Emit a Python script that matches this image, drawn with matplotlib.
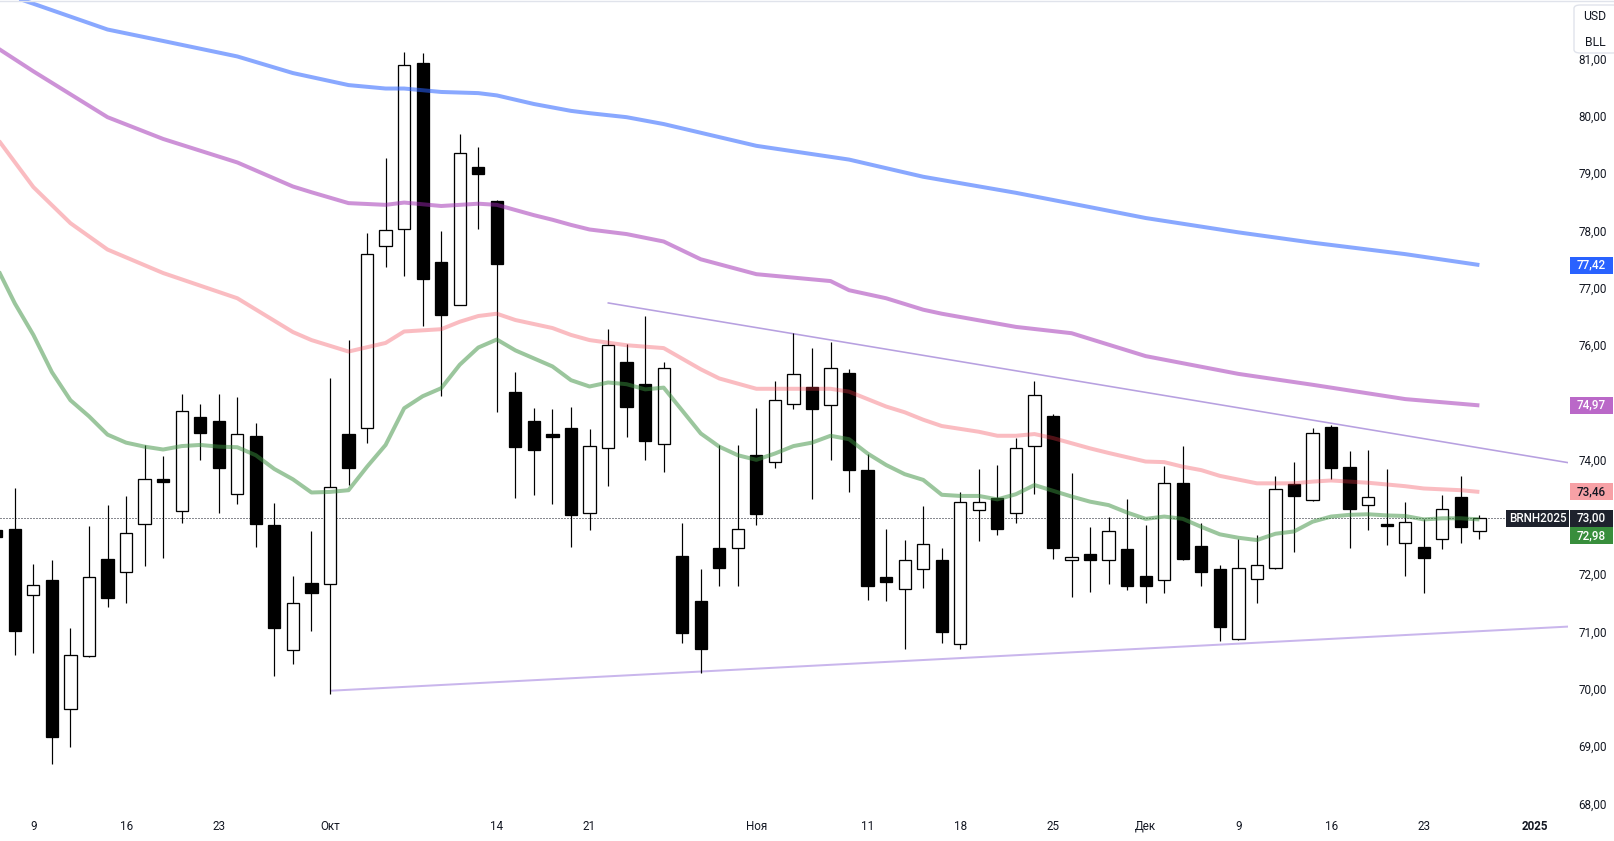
import matplotlib
matplotlib.use("Agg")
import matplotlib.pyplot as plt
import matplotlib.transforms as mtransforms
from matplotlib.patches import Rectangle, FancyBboxPatch
import numpy as np

plt.rcParams['font.family'] = ['Roboto', 'DejaVu Sans']

# ---------------- data ----------------
# trading-day index (0 = 9 Sep 2024)
candle_idx = list(range(-2, 79))
opens = [72.80, 72.81, 71.66, 71.92, 69.68, 70.60, 72.29, 72.07, 72.90, 73.69,
         73.12, 74.77, 74.70, 73.42, 74.44, 72.88, 70.70, 71.87, 71.85, 74.47,
         74.57, 77.76, 78.04, 80.95, 77.47, 76.73, 79.13, 78.54, 75.20, 74.70,
         74.47, 74.58, 73.10, 74.23, 75.72, 75.34, 74.29, 72.35, 71.55, 72.49,
         72.49, 74.10, 73.99, 74.99, 75.29, 74.97, 75.54, 73.84, 71.98, 71.77,
         72.11, 72.27, 70.80, 73.14, 73.36, 73.09, 74.27, 74.79, 72.27, 72.38,
         72.28, 72.46, 71.99, 71.92, 73.61, 72.52, 72.11, 70.90, 71.94, 72.14,
         73.59, 73.32, 74.60, 73.90, 73.24, 72.90, 72.56, 72.50, 72.63, 73.37,
         72.78]
highs = [72.95, 73.53, 72.20, 72.27, 71.09, 72.87, 73.23, 73.39, 74.28, 74.09,
         75.17, 74.99, 75.17, 75.11, 74.66, 73.26, 71.99, 72.78, 75.44, 76.12,
         77.97, 79.29, 81.14, 81.12, 78.01, 79.71, 79.48, 78.56, 75.55, 74.92,
         74.91, 74.94, 74.56, 76.30, 76.04, 76.53, 75.73, 72.91, 72.11, 74.28,
         74.28, 74.92, 75.40, 76.23, 75.97, 76.08, 75.61, 74.12, 72.81, 72.62,
         73.21, 72.48, 73.45, 73.86, 73.93, 74.40, 75.40, 74.82, 73.79, 72.85,
         73.03, 73.34, 72.88, 73.92, 74.27, 72.91, 72.19, 72.63, 72.71, 73.73,
         73.99, 74.57, 74.62, 74.17, 74.19, 73.86, 73.28, 72.99, 73.40, 73.73,
         73.05]
lows = [72.55, 70.62, 70.65, 68.71, 69.01, 70.58, 71.46, 71.53, 72.17, 72.31,
        72.91, 74.01, 73.10, 73.25, 72.50, 70.25, 70.45, 71.04, 69.93, 73.58,
        74.31, 77.39, 77.22, 76.36, 75.14, 76.72, 78.04, 74.86, 73.35, 73.41,
        73.25, 72.50, 72.80, 73.57, 74.42, 74.02, 73.81, 70.83, 70.30, 71.82,
        71.82, 72.89, 73.88, 74.90, 73.34, 74.02, 73.45, 71.57, 71.56, 70.72,
        71.79, 70.83, 70.71, 72.61, 72.70, 72.91, 73.43, 72.29, 71.63, 71.72,
        71.86, 71.75, 71.53, 71.69, 72.27, 71.81, 70.85, 70.88, 71.53, 72.12,
        72.42, 73.30, 73.69, 72.49, 72.80, 72.54, 72.00, 71.70, 72.47, 72.57,
        72.64]
closes = [72.68, 71.04, 71.83, 69.19, 70.61, 71.97, 71.60, 72.74, 73.69, 73.64,
          74.87, 74.48, 73.88, 74.47, 72.90, 71.08, 71.53, 71.69, 73.54, 73.88,
          77.61, 78.03, 80.91, 77.17, 76.55, 79.37, 79.01, 77.44, 74.24, 74.20,
          74.42, 73.05, 74.27, 76.02, 74.95, 74.35, 75.62, 70.99, 70.72, 72.14,
          72.81, 73.08, 75.06, 75.51, 74.90, 75.62, 73.85, 71.82, 71.88, 72.27,
          72.55, 71.02, 73.29, 73.29, 72.81, 74.22, 75.16, 72.48, 72.32, 72.28,
          72.77, 71.82, 71.82, 73.61, 72.29, 72.07, 71.11, 72.13, 72.18, 73.51,
          73.39, 74.48, 73.88, 73.17, 73.38, 72.87, 72.93, 72.31, 73.16, 72.84,
          73.00]

# moving averages
green_idx = list(range(-2, 79))
green_val = [77.40, 76.75, 76.20, 75.55, 75.06, 74.78, 74.46, 74.32, 74.25, 74.20,
             74.26, 74.28, 74.25, 74.24, 74.10, 73.86, 73.68, 73.45, 73.46, 73.49,
             73.90, 74.28, 74.92, 75.13, 75.27, 75.68, 75.98, 76.12, 75.93, 75.79,
             75.65, 75.41, 75.30, 75.37, 75.34, 75.25, 75.28, 74.88, 74.48, 74.25,
             74.10, 74.02, 74.13, 74.26, 74.32, 74.44, 74.38, 74.13, 73.93, 73.77,
             73.67, 73.41, 73.39, 73.39, 73.33, 73.42, 73.58, 73.48, 73.38, 73.29,
             73.23, 73.10, 72.99, 73.03, 72.99, 72.85, 72.72, 72.66, 72.62, 72.73,
             72.77, 72.94, 73.03, 73.06, 73.07, 73.05, 73.04, 72.98, 73.00, 73.00,
             72.98]
pink_idx = [-2, 0, 2, 4, 7, 11, 14, 15, 17, 19, 20, 22, 23, 24, 25, 26, 27, 28, 29,
            30, 32, 34, 36, 37, 39, 41, 43, 44, 46, 47, 48, 49, 51, 52, 53, 54, 55,
            57, 58, 60, 61, 62, 63, 64, 66, 68, 69, 70, 72, 74, 75, 77, 78]
pink_val = [79.65, 78.78, 78.15, 77.69, 77.28, 76.84, 76.25, 76.11, 75.91, 76.06,
            76.26, 76.30, 76.43, 76.53, 76.57, 76.46, 76.39, 76.32, 76.20, 76.11,
            76.02, 75.97, 75.60, 75.44, 75.26, 75.26, 75.26, 75.21, 74.95, 74.85,
            74.72, 74.61, 74.51, 74.44, 74.44, 74.47, 74.40, 74.22, 74.14, 73.99,
            73.98, 73.90, 73.84, 73.74, 73.61, 73.61, 73.64, 73.66, 73.62, 73.56,
            73.52, 73.49, 73.46]
purple_idx = [-2, 0, 2, 4, 7, 11, 14, 15, 17, 19, 20, 22, 24, 25, 27, 28, 29, 30,
              32, 34, 36, 39, 43, 44, 46, 48, 49, 53, 56, 60, 65, 69, 74, 78]
purple_val = [81.22, 80.80, 80.40, 80.00, 79.62, 79.21, 78.79, 78.69, 78.50, 78.47,
              78.51, 78.45, 78.49, 78.47, 78.29, 78.21, 78.12, 78.04, 77.96, 77.83,
              77.52, 77.26, 77.14, 76.98, 76.84, 76.64, 76.57, 76.34, 76.23, 75.83,
              75.52, 75.33, 75.08, 74.97]
blue_idx = [-2, 0, 4, 7, 11, 14, 17, 19, 20, 22, 24, 25, 27, 29, 30, 32, 34, 39,
            44, 48, 53, 57, 60, 65, 69, 74, 78]
blue_val = [82.20, 81.98, 81.53, 81.33, 81.06, 80.77, 80.56, 80.50, 80.50, 80.44,
            80.42, 80.38, 80.23, 80.11, 80.07, 80.00, 79.88, 79.50, 79.26, 78.96,
            78.68, 78.43, 78.24, 77.99, 77.81, 77.61, 77.42]

# trend lines (start / end)
upper_trend_idx = [30.97, 82.8]
upper_trend_val = [76.76, 73.97]
lower_trend_idx = [16.0, 82.8]
lower_trend_val = [69.99, 71.11]

last_price = 73.00
ma_labels = [("77,42", 77.42, "#2962ff", "white"),
             ("74,97", 74.97, "#ba68c8", "white"),
             ("73,46", 73.46, "#f7a1a6", "#131722"),
             ("73,00", 73.00, "#1e222d", "white"),
             ("72,98", 72.98, "#388e3c", "white")]
ma_label_y = [77.42, 74.97, 73.46, 73.00, 72.70]

price_ticks = [68, 69, 70, 71, 72, 73, 74, 75, 76, 77, 78, 79, 80, 81]
price_tick_labels = ["68,00", "69,00", "70,00", "71,00", "72,00", None, "74,00",
                     None, "76,00", "77,00", "78,00", "79,00", "80,00", "81,00"]
date_ticks = [0, 5, 10, 16, 25, 30, 39, 45, 50, 55, 60, 65, 70, 75, 81]
date_labels = ["9", "16", "23", "Окт", "14", "21", "Ноя", "11", "18", "25",
               "Дек", "9", "16", "23", "2025"]

# ---------------- figure ----------------
W, H = 1615, 841
fig = plt.figure(figsize=(W / 100, H / 100), dpi=100)
ax = fig.add_axes([0, 29 / H, 1568 / W, 812 / H])
ax.set_xlim(-1.8, 82.78)
ax.set_ylim(67.874, 82.045)
for s in ax.spines.values():
    s.set_visible(False)
ax.set_xticks([])
ax.set_yticks([])

px = 0.72  # 1 px in points

# trend lines
ax.plot(upper_trend_idx, upper_trend_val, color="#b7a0e0", lw=1.6 * px, zorder=2,
        solid_capstyle="butt")
ax.plot(lower_trend_idx, lower_trend_val, color="#c9b6ec", lw=2.0 * px, zorder=2,
        solid_capstyle="butt")

# dotted last price line
ax.plot([-1.8, 79.4], [last_price, last_price], color="#131722", lw=1.0 * px,
        ls=(0, (1, 2)), zorder=2)

# candles
ci = np.array(candle_idx, dtype=float)
o = np.array(opens); h = np.array(highs); l = np.array(lows); c = np.array(closes)
ax.vlines(ci, l, h, color="black", lw=1.2 * px, zorder=3)
up = c >= o
bottoms = np.minimum(o, c)
heights = np.maximum(np.abs(c - o), 0.02)
ax.bar(ci[up], heights[up], bottom=bottoms[up], width=0.66, color="white",
       edgecolor="black", linewidth=1.3 * px, zorder=4)
ax.bar(ci[~up], heights[~up], bottom=bottoms[~up], width=0.66, color="black",
       edgecolor="black", linewidth=1.3 * px, zorder=4)

# moving averages (semi-transparent, on top)
lw_ma = 4.0 * px
ax.plot(blue_idx, blue_val, color="#2962ff", alpha=0.55, lw=lw_ma, zorder=5,
        solid_joinstyle="round", solid_capstyle="butt")
ax.plot(purple_idx, purple_val, color="#9c27b0", alpha=0.5, lw=lw_ma, zorder=5,
        solid_joinstyle="round", solid_capstyle="butt")
ax.plot(pink_idx, pink_val, color="#f23645", alpha=0.33, lw=lw_ma, zorder=5,
        solid_joinstyle="round", solid_capstyle="butt")
ax.plot(green_idx, green_val, color="#388e3c", alpha=0.5, lw=lw_ma, zorder=5,
        solid_joinstyle="round", solid_capstyle="butt")

# ---------------- right price axis ----------------
trans_fy = mtransforms.blended_transform_factory(fig.transFigure, ax.transData)
trans_xf = mtransforms.blended_transform_factory(ax.transData, fig.transFigure)
fs = 8.4
for p, lab in zip(price_ticks, price_tick_labels):
    if lab is None:
        continue
    fig.text(1592.5 / W, p, lab, transform=trans_fy, ha="center", va="center",
             fontsize=fs, color="#131722")

box_h = 17 / 57.3
for (txt, val, bg, fg), yy in zip(ma_labels, ma_label_y):
    fig.patches.append(Rectangle((1570 / W, yy - box_h / 2), 43 / W, box_h,
                                 transform=trans_fy, facecolor=bg,
                                 edgecolor="none", zorder=5))
    fig.text(1591.5 / W, yy, txt, transform=trans_fy, ha="center", va="center",
             fontsize=fs, color=fg, zorder=6, fontweight="medium")

# symbol label
fig.patches.append(Rectangle((1506 / W, last_price - box_h / 2), 63 / W, box_h,
                             transform=trans_fy, facecolor="#1e222d",
                             edgecolor="none", zorder=5))
fig.text(1537.5 / W, last_price, "BRNH2025", transform=trans_fy, ha="center",
         va="center", fontsize=fs, color="white", zorder=6, fontweight="medium")

# currency / unit box
fig.patches.append(FancyBboxPatch((1574 / W, 1 - 53 / H), 45 / W, 48 / H,
                                  boxstyle="round,pad=0,rounding_size=0.004",
                                  transform=fig.transFigure, facecolor="white",
                                  edgecolor="#e0e3eb", lw=1.0, zorder=7))
fig.text(1595 / W, 1 - 17 / H, "USD", ha="center", va="center", fontsize=8.8,
         color="#131722", zorder=8)
fig.text(1595 / W, 1 - 42 / H, "BLL", ha="center", va="center", fontsize=8.8,
         color="#131722", zorder=8)

# top border
fig.add_artist(plt.Line2D([0, 1], [1 - 0.5 / H, 1 - 0.5 / H],
                          transform=fig.transFigure, color="#e0e3eb", lw=1.0))

# ---------------- date axis ----------------
for d, lab in zip(date_ticks, date_labels):
    fig.text(d, 1 - 826 / H, lab, transform=trans_xf, ha="center", va="center",
             fontsize=fs, color="#131722",
             fontweight="bold" if lab == "2025" else "normal")

fig.savefig("out.png", dpi=100)
